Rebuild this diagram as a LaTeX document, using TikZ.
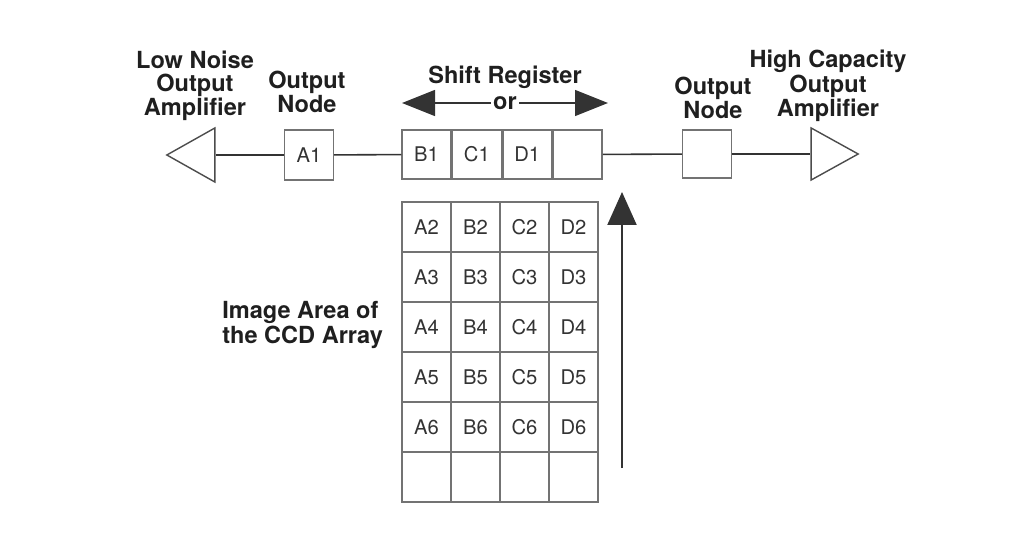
\documentclass[tikz,border=0pt]{standalone}
\usepackage{fontspec}
\setmainfont{TeX Gyre Heros}
\usetikzlibrary{
	positioning,
	arrows.meta,
	shapes.geometric
}
\tikzset{
	cell/.style={
		draw=black!55, line width=0.8pt, inner sep=0pt,
		minimum width=0.98cm, minimum height=1cm,
		text=black!80, font=\fontsize{11.5}{12}\selectfont
	},
	heading/.style={
		align=center, inner sep=0pt, text=black!88,
		font=\bfseries\fontsize{13.4}{12.6}\selectfont
	},
	amp/.style={
		draw=black!70, line width=0.8pt, isosceles triangle,
		isosceles triangle stretches, inner sep=0pt,
		minimum width=1.08cm, minimum height=0.96cm
	},
	wire/.style={draw=black!80, line width=0.9pt}
}

\begin{document}
\begin{tikzpicture}[x=0.02cm,y=-0.02cm]
		\useasboundingbox (0,0) rectangle (1033,536);

		% image area of the array
		\foreach \c [count=\i from 0] in {A,B,C,D}{
			\foreach \r [count=\j from 0] in {2,...,6}
				\node[cell] (\c\r) at (426.5+49*\i,227+50*\j) {\c\r};
			\node[cell] (\c7) at (426.5+49*\i,477) {};
		}

		% horizontal register
		\node[cell,minimum height=0.98cm] (B1) at (426.5,154.5) {B1};
		\node[cell,minimum height=0.98cm,right=0pt of B1] (C1) {C1};
		\node[cell,minimum height=0.98cm,right=0pt of C1] (D1) {D1};
		\node[cell,minimum height=0.98cm,right=0pt of D1] (E1) {};

		\node[cell] (A1) at (309,155) {A1};
		\node[cell,minimum height=0.96cm] (outR) at (707,154) {};

		\node[amp,shape border rotate=180,anchor=apex] (lna) at (165,155) {};
		\node[amp,minimum width=1.04cm,minimum height=0.94cm,anchor=apex] (hca) at (860,154) {};

		\draw[wire] (lna) -- (A1);
		\draw[wire] (A1) -- (B1);
		\draw[wire] (E1) -- (outR);
		\draw[wire] (outR) -- (hca);

		% labels
		\node[heading] (lnaText) at (195,86) {Low Noise\\Output\\Amplifier};
		\node[heading] (outLText) at (307,92) {Output\\Node};
		\node[heading] (outRText) at (713,98) {Output\\Node};
		\node[heading] (hcaText) at (828,86) {High Capacity\\Output\\Amplifier};
		\node[heading] (srText) at (505,77) {Shift Register};
		\node[heading,align=left,anchor=west] (areaText) at (222,325) {Image Area of\\the CCD Array};

		% shift direction
		\coordinate (srL) at (402,103);
		\coordinate (srR) at (608,103);
		\draw[wire,line width=0.8pt,{Triangle[length=0.66cm,width=0.52cm]}-{Triangle[length=0.66cm,width=0.52cm]}]
			(srL) -- node[heading,fill=white,inner xsep=1pt,inner ysep=2pt] (orText) {or} (srR);

		% transfer direction
		\coordinate (upA) at (622,468);
		\coordinate (upB) at (622,192);
		\draw[wire,line width=1.2pt,-{Triangle[length=0.66cm,width=0.58cm]}] (upA) -- (upB);
	\end{tikzpicture}
\end{document}
